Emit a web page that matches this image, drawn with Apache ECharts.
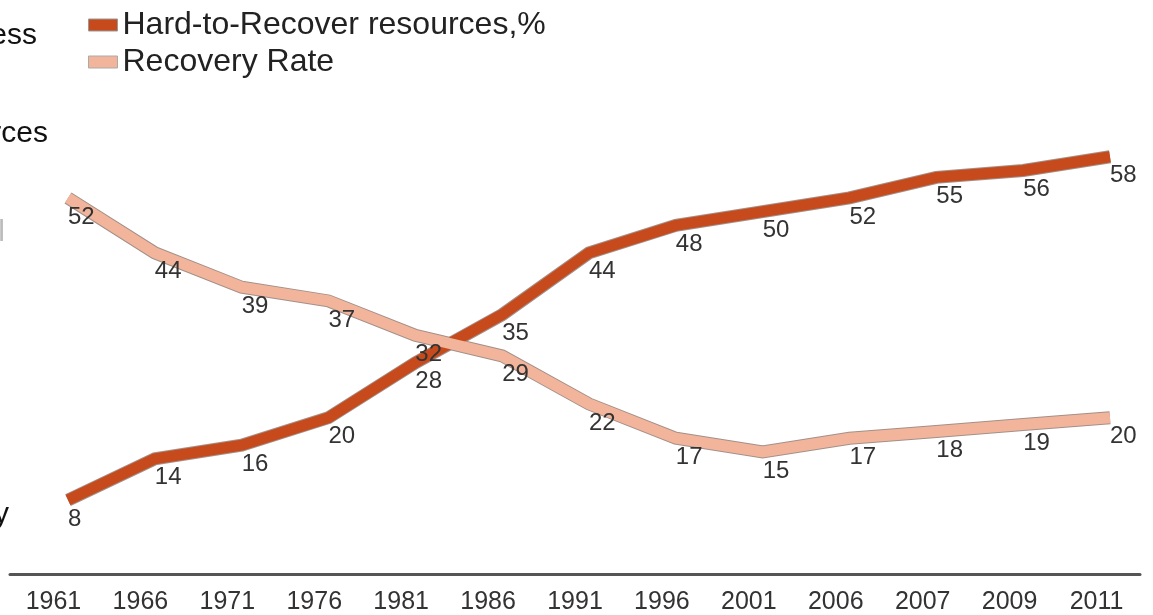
<!DOCTYPE html>
<html>
<head>
<meta charset="utf-8">
<script src="https://cdn.jsdelivr.net/npm/echarts@6/dist/echarts.min.js"></script>
<style>html,body{margin:0;padding:0;background:#fff;}#main{width:1153px;height:615px;}</style>
</head>
<body>
<div id="main"></div>
<script>
var years = ['1961','1966','1971','1976','1981','1986','1991','1996','2001','2006','2007','2009','2011'];
var hardToRecover = [8, 14, 16, 20, 28, 35, 44, 48, 50, 52, 55, 56, 58];
var recoveryRate = [52, 44, 39, 37, 32, 29, 22, 17, 15, 17, 18, 19, 20];
var seriesNames = ['Hard-to-Recover resources,%', 'Recovery Rate'];
var sideTexts = ['ess', 'rces', 'l', 'y'];

var DARK = '#C64A1C', LIGHT = '#F2B59C', OUT = '#a39088';
var FONT = '"Liberation Sans", Arial, sans-serif';

function lbl() {
  return { show: true, position: 'bottom', distance: 7, align: 'left', color: '#333', fontSize: 24, fontFamily: FONT };
}
function outline(data) {
  return { type: 'line', xAxisIndex: 1, yAxisIndex: 1, data: data, symbol: 'none', silent: true,
    lineStyle: { color: OUT, width: 13, cap: 'butt', join: 'miter' }, label: { show: false }, z: 2 };
}
function main(name, data, color) {
  return { type: 'line', name: name, xAxisIndex: 1, yAxisIndex: 1, data: data, symbol: 'circle', symbolSize: 0,
    itemStyle: { color: color }, lineStyle: { color: color, width: 11, cap: 'butt', join: 'miter' },
    label: lbl(), z: 3 };
}

var chart = echarts.init(document.getElementById('main'));
chart.setOption({
  animation: false,
  textStyle: { fontFamily: FONT },
  legend: {
    orient: 'vertical', left: 88, top: 9, padding: 0, itemWidth: 29, itemHeight: 12, itemGap: 5, icon: 'rect',
    textStyle: { fontSize: 32, color: '#222', fontFamily: FONT, lineHeight: 32 },
    data: [
      { name: seriesNames[0], itemStyle: { color: DARK, borderColor: '#999', borderWidth: 1 } },
      { name: seriesNames[1], itemStyle: { color: LIGHT, borderColor: '#aaa', borderWidth: 1 } }
    ]
  },
  grid: [
    { left: 10, right: 13, top: 143, bottom: 39 },
    { left: 68, right: 43, top: 143, bottom: 60 }
  ],
  xAxis: [
    { type: 'category', gridIndex: 0, data: years, boundaryGap: true,
      axisLine: { lineStyle: { color: '#555', width: 3 } }, axisTick: { show: false },
      axisLabel: { fontSize: 25, color: '#333', margin: 16, fontFamily: FONT } },
    { type: 'category', gridIndex: 1, data: years, boundaryGap: false, show: false }
  ],
  yAxis: [
    { type: 'value', gridIndex: 0, show: false, min: 0, max: 60, splitLine: { show: false } },
    { type: 'value', gridIndex: 1, show: false, min: 0, max: 60, splitLine: { show: false } }
  ],
  graphic: [
    { type: 'text', x: 37, y: 36, style: { text: sideTexts[0], fill: '#111', font: '30px ' + FONT, textAlign: 'right', textVerticalAlign: 'middle' } },
    { type: 'text', x: 48, y: 134, style: { text: sideTexts[1], fill: '#111', font: '30px ' + FONT, textAlign: 'right', textVerticalAlign: 'middle' } },
    { type: 'text', x: 5, y: 233, style: { text: sideTexts[2], fill: '#bbb', font: '30px ' + FONT, textAlign: 'right', textVerticalAlign: 'middle' } },
    { type: 'text', x: 9, y: 515, style: { text: sideTexts[3], fill: '#111', font: '30px ' + FONT, textAlign: 'right', textVerticalAlign: 'middle' } }
  ],
  series: [
    outline(hardToRecover),
    main(seriesNames[0], hardToRecover, DARK),
    outline(recoveryRate),
    main(seriesNames[1], recoveryRate, LIGHT)
  ]
});
</script>
</body>
</html>
